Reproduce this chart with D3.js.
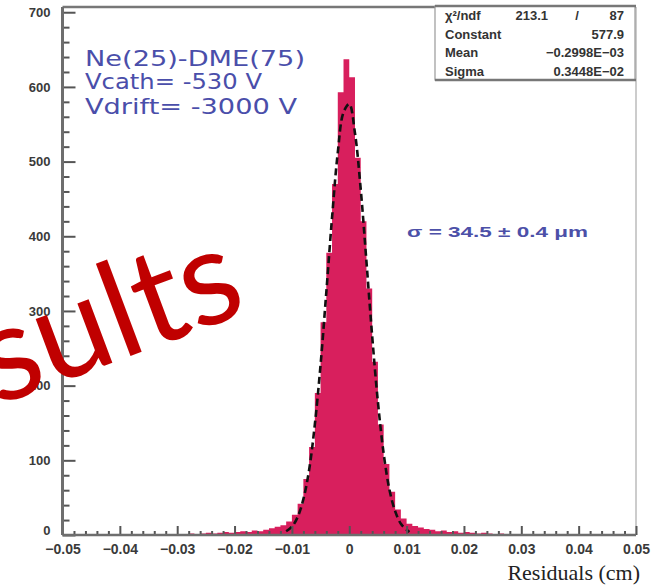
<!DOCTYPE html>
<html>
<head>
<meta charset="utf-8">
<script src="https://cdn.jsdelivr.net/npm/d3@7"></script>
<style>
  body { margin: 0; background: #fff; }
  svg { display: block; }
</style>
</head>
<body>
<div id="chart"></div>
<script>
// Histogram: bin centers (cm) and counts, 100 bins of 0.001 from -0.05 to 0.05
const binCenters = d3.range(100).map(i => +(-0.0495 + i * 0.001).toFixed(4));
const counts = [
  0, 0, 0, 0, 0, 0, 0, 0, 0, 0,
  0, 0, 0, 0, 0, 0, 0, 1, 0, 1,
  0, 1, 2, 1, 2, 3, 2, 3, 4, 3,
  4, 5, 4, 6, 5, 7, 9, 11, 13, 18,
  27, 42, 75, 118, 190, 285, 378, 470, 593, 637,
  613, 505, 420, 330, 232, 148, 95, 58, 34, 22,
  15, 12, 10, 8, 7, 5, 6, 4, 5, 3,
  4, 3, 2, 3, 2, 1, 2, 0, 0, 1,
  0, 0, 0, 0, 0, 0, 0, 0, 0, 0,
  0, 0, 0, 0, 0, 0, 0, 0, 0, 0
];

// Gaussian fit curve
const fitX = [-0.011, -0.010, -0.009, -0.008, -0.007, -0.006, -0.005, -0.004, -0.003, -0.002, -0.001,
              0, 0.001, 0.002, 0.003, 0.004, 0.005, 0.006, 0.007, 0.008, 0.009, 0.010, 0.0105];
const fitY = [5, 11, 24, 48, 87, 148, 228, 325, 425, 512, 566,
              577, 538, 463, 366, 266, 178, 109, 61, 32, 15, 7, 4];

// Axis ticks
const xMajorTicks = d3.range(-0.05, 0.0501, 0.01).map(d => +d.toFixed(3));
const xMinorTicks = d3.range(-0.05, 0.0501, 0.002).map(d => +d.toFixed(4))
  .filter(d => Math.abs(Math.round(d * 100) - d * 100) > 1e-6);
const yMajorTicks = [0, 100, 200, 300, 400, 500, 600, 700];
const yMinorTicks = d3.range(0, 701, 20).filter(d => d % 100 !== 0);

// Stats box
const statsRows = [
  ["Constant", "577.9"],
  ["Mean", "\u22120.2998E\u221203"],
  ["Sigma", "0.3448E\u221202"]
];
const annotLines = ["Ne(25)-DME(75)", "Vcath= -530 V", "Vdrift= -3000 V"];

const width = 669, height = 585;
const plot = { left: 62.5, right: 636, top: 7, bottom: 535 };

const svg = d3.select('#chart').append('svg')
  .attr('width', width)
  .attr('height', height);

svg.append('rect').attr('width', width).attr('height', height).attr('fill', '#fff');

const x = d3.scaleLinear().domain([-0.05, 0.05]).range([plot.left, plot.right]);
const y = d3.scaleLinear().domain([0, 707]).range([plot.bottom, plot.top]);

// histogram as one step area (no seams between bins)
const stepData = binCenters.map((c, i) => ({ x0: c - 0.0005, v: counts[i] }));
stepData.push({ x0: 0.05, v: 0 });

const histArea = d3.area()
  .x(d => x(d.x0))
  .y0(y(0))
  .y1(d => y(d.v))
  .curve(d3.curveStepAfter);

svg.append('path')
  .datum(stepData)
  .attr('d', histArea)
  .attr('fill', '#d81f5d');

// fit curve
const fitLine = d3.line()
  .x(d => x(d[0]))
  .y(d => y(d[1]))
  .curve(d3.curveCatmullRom);

svg.append('path')
  .datum(fitX.map((d, i) => [d, fitY[i]]))
  .attr('d', fitLine)
  .attr('fill', 'none')
  .attr('stroke', '#111')
  .attr('stroke-width', 2.6)
  .attr('stroke-dasharray', '7,4');

// frame
svg.append('line').attr('x1', plot.left).attr('x2', plot.right).attr('y1', plot.top).attr('y2', plot.top)
  .attr('stroke', '#777').attr('stroke-width', 2.5);
svg.append('line').attr('x1', plot.right).attr('x2', plot.right).attr('y1', plot.top).attr('y2', plot.bottom)
  .attr('stroke', '#aaa').attr('stroke-width', 1.2);

// y axis
const yAxisMajor = d3.axisLeft(y).tickValues(yMajorTicks).tickSize(-13).tickPadding(12);
const yAxisMinor = d3.axisLeft(y).tickValues(yMinorTicks).tickSize(-7).tickFormat('');

const gy = svg.append('g').attr('transform', `translate(${plot.left},0)`).call(yAxisMajor);
const gy2 = svg.append('g').attr('transform', `translate(${plot.left},0)`).call(yAxisMinor);

// x axis
const xFmt = d => d === 0 ? '0' : d3.format('.2f')(d);
const xAxisMajor = d3.axisBottom(x).tickValues(xMajorTicks).tickSize(-9).tickPadding(9).tickFormat(xFmt);
const xAxisMinor = d3.axisBottom(x).tickValues(xMinorTicks).tickSize(-4).tickFormat('');

const gx = svg.append('g').attr('transform', `translate(0,${plot.bottom})`).call(xAxisMajor);
const gx2 = svg.append('g').attr('transform', `translate(0,${plot.bottom})`).call(xAxisMinor);

[gy, gy2, gx, gx2].forEach(g => {
  g.select('.domain').remove();
  g.selectAll('.tick line').attr('stroke', '#555').attr('stroke-width', 2);
  g.selectAll('.tick text')
    .attr('font-family', 'Liberation Sans, Arial, sans-serif')
    .attr('font-weight', 'bold')
    .attr('font-size', 14)
    .attr('fill', '#3a3a3a');
});
gy.selectAll('.tick text').attr('font-size', 13);
// the "0" label sits a little above the x labels, as in the original
gy.selectAll('.tick').filter(d => d === 0).select('text').attr('dy', '-0.05em');

// axis lines
svg.append('line').attr('x1', plot.left).attr('x2', plot.left).attr('y1', plot.top).attr('y2', plot.bottom)
  .attr('stroke', '#6e6e6e').attr('stroke-width', 3);
svg.append('line').attr('x1', plot.left).attr('x2', plot.right).attr('y1', plot.bottom).attr('y2', plot.bottom)
  .attr('stroke', '#6e6e6e').attr('stroke-width', 2.5);

// x title
svg.append('text')
  .attr('x', 640).attr('y', 580)
  .attr('text-anchor', 'end')
  .attr('font-family', 'Liberation Serif, Times New Roman, serif')
  .attr('font-size', 22)
  .attr('fill', '#222')
  .text('Residuals (cm)');

// stats box
const box = svg.append('g');
box.append('rect')
  .attr('x', 435).attr('y', 6).attr('width', 200).attr('height', 74)
  .attr('fill', '#fff').attr('stroke', '#999').attr('stroke-width', 1.2);
box.append('line').attr('x1', 435).attr('x2', 636).attr('y1', 6).attr('y2', 6)
  .attr('stroke', '#777').attr('stroke-width', 2.5);
box.append('line').attr('x1', 435).attr('x2', 636).attr('y1', 80).attr('y2', 80)
  .attr('stroke', '#777').attr('stroke-width', 2.5);

const statFont = t => t
  .attr('font-family', 'Liberation Sans, Arial, sans-serif')
  .attr('font-weight', 'bold')
  .attr('font-size', 13)
  .attr('fill', '#333');

box.append('text').attr('x', 445).attr('y', 20).call(statFont).text('\u03c7\u00b2/ndf');
box.append('text').attr('x', 548).attr('y', 20).attr('text-anchor', 'end').call(statFont).text('213.1');
box.append('text').attr('x', 577).attr('y', 20).attr('text-anchor', 'middle').call(statFont).text('/');
box.append('text').attr('x', 624).attr('y', 20).attr('text-anchor', 'end').call(statFont).text('87');

statsRows.forEach((r, i) => {
  const yy = 38.5 + i * 18.5;
  box.append('text').attr('x', 445).attr('y', yy).call(statFont).text(r[0]);
  box.append('text').attr('x', 624).attr('y', yy).attr('text-anchor', 'end').call(statFont).text(r[1]);
});

// blue annotation
const annotY = [66, 89, 114];
const annotW = [220, 177, 212];
annotLines.forEach((t, i) => {
  svg.append('text')
    .attr('x', 85).attr('y', annotY[i])
    .attr('font-family', 'DejaVu Sans, sans-serif')
    .attr('font-size', 21)
    .attr('fill', '#4a4eaa')
    .attr('textLength', annotW[i])
    .attr('lengthAdjust', 'spacingAndGlyphs')
    .text(t);
});

svg.append('text')
  .attr('x', 407).attr('y', 237)
  .attr('font-family', 'Liberation Sans, Arial, sans-serif')
  .attr('font-weight', 'bold')
  .attr('font-size', 14)
  .attr('fill', '#4c50a8')
  .attr('textLength', 181)
  .attr('lengthAdjust', 'spacingAndGlyphs')
  .text('\u03c3 = 34.5 \u00b1  0.4 \u03bcm');

// red overlay word
svg.append('text')
  .attr('transform', 'translate(-3,406) rotate(-20.5)')
  .attr('font-family', 'Lato, sans-serif')
  .attr('font-size', 134)
  .attr('fill', '#c00000')
  .text('sults');
</script>
</body>
</html>
